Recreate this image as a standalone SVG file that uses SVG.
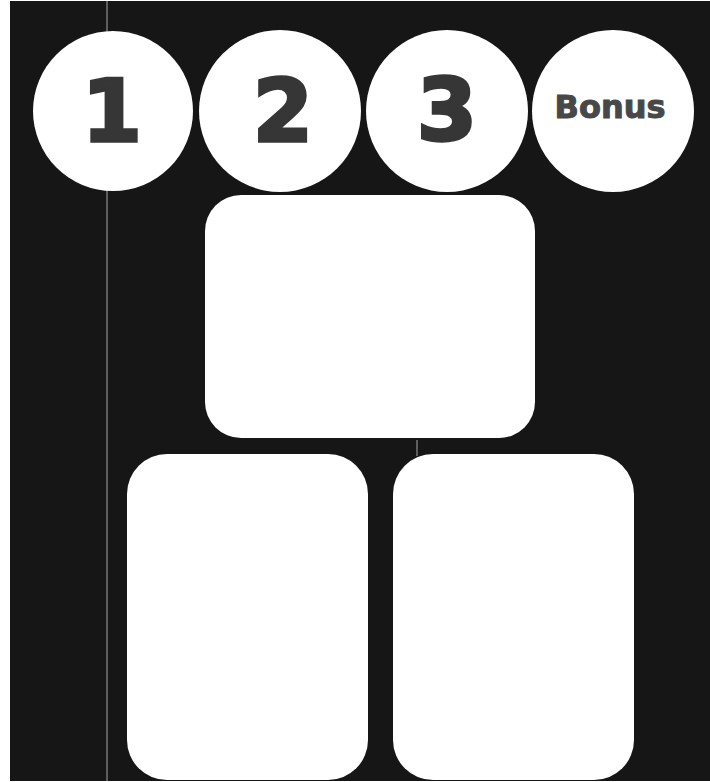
<svg xmlns="http://www.w3.org/2000/svg" width="710" height="782" viewBox="0 0 710 782">
  <style>
    .bg { fill: #161616; }
    .disc { fill: #ffffff; }
    .panel { fill: #ffffff; }
    .num { font-family: "DejaVu Sans", "Liberation Sans", sans-serif; font-weight: bold; font-size: 86px; fill: #363636; stroke: #363636; stroke-width: 3.5; stroke-linejoin: miter; text-anchor: middle; }
    .bonus { font-family: "DejaVu Sans", "Liberation Sans", sans-serif; font-weight: bold; font-size: 32px; fill: #484848; stroke: #484848; stroke-width: 1; text-anchor: middle; }
    .scan { stroke: #d8d8d8; stroke-width: 1; opacity: 0.75; }
  </style>
  <rect x="0" y="0" width="710" height="782" fill="#ffffff"/>
  <rect class="bg" x="10" y="1" width="700" height="780"/>
  <line class="scan" x1="107" y1="1" x2="107" y2="781"/>
  <line class="scan" x1="417" y1="440" x2="417" y2="456"/>
  <g id="step1">
    <circle class="disc" cx="113" cy="111" r="80"/>
    <text class="num" x="112" y="141">1</text>
  </g>
  <g id="step2">
    <circle class="disc" cx="280" cy="111" r="81"/>
    <text class="num" x="283" y="141">2</text>
  </g>
  <g id="step3">
    <circle class="disc" cx="447" cy="111" r="81"/>
    <text class="num" x="447" y="140">3</text>
  </g>
  <g id="bonus">
    <circle class="disc" cx="613" cy="111" r="81"/>
    <text class="bonus" x="610" y="118">Bonus</text>
  </g>
  <g id="panel-top">
    <rect class="panel" x="205" y="195" width="330" height="243" rx="36" ry="36"/>
  </g>
  <g id="panel-left">
    <rect class="panel" x="127" y="454" width="241" height="326" rx="40" ry="40"/>
  </g>
  <g id="panel-right">
    <rect class="panel" x="393" y="454" width="241" height="326" rx="40" ry="40"/>
  </g>
  <g id="connectors"></g>
</svg>
